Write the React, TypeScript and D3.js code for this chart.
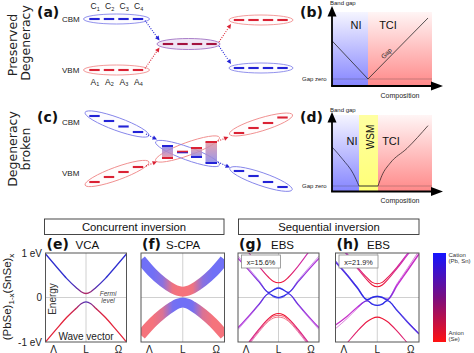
import React from "react";
import * as d3 from "d3";

const SANS = "'Liberation Sans', Arial, Helvetica, sans-serif";
const BOLD = "'DejaVu Sans', Verdana, sans-serif";

// ---------------- data ----------------
const siteIndex = ["1", "2", "3", "4"];

const phasesB = ["NI", "TCI"];
const boundsB = [0, 0.36, 1];
const labelPosB = [0.24, 0.56];
const gapCompB = [0, 0.36, 0.96];
const gapValB = [0.57, 0, 0.91];

const phasesD = ["NI", "WSM", "TCI"];
const boundsD = [0, 0.27, 0.46, 1];
const labelPosD = [0.2, 0.375, 0.59];
const niComp = [0, 0.11, 0.21, 0.27];
const niGap = [0.55, 0.37, 0.18, 0];
const wsmComp = [0.27, 0.46];
const wsmGap = [0, 0];
const tciComp = [0.46, 0.5, 0.58, 0.75, 0.96];
const tciGap = [0, 0.15, 0.32, 0.53, 0.85];

const kGrid = [-1.25, -0.9, -0.6, -0.3, -0.15, 0, 0.15, 0.3, 0.6, 0.9, 1.25];
const kTicks = [-1, 0, 1];
const kTickLabels = ["Λ", "L", "Ω"];
const eTicks = [1, 0, -1];
const eTickLabels = ["1 eV", "0", "-1 eV"];

// (e) VCA
const vcaCB = [0.98, 0.68, 0.43, 0.22, 0.13, 0.09, 0.13, 0.22, 0.43, 0.68, 0.98];
const vcaCBw = [1, 1, 1, 0.8, 0.45, 0.25, 0.45, 0.8, 1, 1, 1];
const vcaVB = [-1.0, -0.7, -0.45, -0.24, -0.14, -0.1, -0.14, -0.24, -0.45, -0.7, -1.0];
const vcaVBw = [0, 0, 0, 0.2, 0.6, 0.85, 0.6, 0.2, 0, 0, 0];
// (f) S-CPA
const cpaCB = [0.85, 0.55, 0.35, 0.2, 0.15, 0.13, 0.15, 0.2, 0.35, 0.55, 0.85];
const cpaCBw = [1, 1, 0.8, 0.05, 0, 0, 0, 0.05, 0.8, 1, 1];
const cpaVB = [-0.85, -0.56, -0.36, -0.2, -0.14, -0.11, -0.14, -0.2, -0.36, -0.56, -0.85];
const cpaVBw = [0, 0, 0.2, 0.95, 1, 1, 1, 0.95, 0.2, 0, 0];
// (g) EBS x=15.6%
const gCB = [1.32, 0.99, 0.7, 0.45, 0.36, 0.33, 0.36, 0.45, 0.7, 0.99, 1.32];
const gCBw = [0.45, 0.4, 0.3, 0.1, 0.05, 0, 0.05, 0.1, 0.3, 0.4, 0.45];
const gVB1 = [-1.33, -0.99, -0.71, -0.47, -0.39, -0.36, -0.39, -0.47, -0.71, -0.99, -1.33];
const gVB2 = [-1.36, -1.02, -0.74, -0.5, -0.42, -0.4, -0.42, -0.5, -0.74, -1.02, -1.36];
const gVB3 = [-1.39, -1.05, -0.77, -0.53, -0.46, -0.44, -0.46, -0.53, -0.77, -1.05, -1.39];
const gVBw = [0.35, 0.3, 0.2, 0.05, 0, 0, 0, 0.05, 0.2, 0.3, 0.35];
const gHatU = [0.88, 0.6, 0.35, 0.11, 0.17, 0.21, 0.17, 0.11, 0.35, 0.6, 0.88];
const gHatU2 = [0.93, 0.64, 0.38, 0.12, 0.18, 0.23, 0.18, 0.12, 0.38, 0.64, 0.93];
const gHatL = [-0.68, -0.4, -0.15, 0.09, 0.03, 0.0, 0.03, 0.09, -0.15, -0.4, -0.68];
const gHatL2 = [-0.72, -0.43, -0.17, 0.08, 0.01, -0.02, 0.01, 0.08, -0.17, -0.43, -0.72];
const gHatw = [0.55, 0.6, 0.75, 0.95, 1, 1, 1, 0.95, 0.75, 0.6, 0.55];
// (h) EBS x=21.9%
const hCB1 = [1.3, 0.98, 0.69, 0.44, 0.34, 0.31, 0.34, 0.44, 0.69, 0.98, 1.3];
const hCB2 = [1.26, 0.95, 0.66, 0.39, 0.28, 0.24, 0.28, 0.39, 0.66, 0.95, 1.26];
const hCBw = [0.5, 0.45, 0.3, 0.1, 0.03, 0, 0.03, 0.1, 0.3, 0.45, 0.5];
const hVB = [-1.32, -1.02, -0.76, -0.54, -0.47, -0.44, -0.47, -0.54, -0.76, -1.02, -1.32];
const hVBw = [0.3, 0.25, 0.15, 0.05, 0, 0, 0, 0.05, 0.15, 0.25, 0.3];
const hHatU = [0.8, 0.5, 0.22, -0.05, 0.0, 0.02, 0.0, -0.05, 0.28, 0.6, 0.98];
const hHatU2 = [0.83, 0.52, 0.24, -0.04, 0.01, 0.03, 0.01, -0.03, 0.32, 0.65, 1.05];
const hHatUw = [0.85, 0.9, 0.95, 1, 1, 1, 1, 0.85, 0.5, 0.45, 0.45];
const hHatL = [-0.62, -0.42, -0.22, -0.07, -0.15, -0.18, -0.15, -0.07, -0.3, -0.55, -0.82];
const hHatL2 = [-0.7, -0.47, -0.25, -0.08, -0.14, -0.17, -0.14, -0.07, -0.28, -0.53, -0.8];
const hHatLw = [0.45, 0.45, 0.5, 0.85, 1, 1, 1, 1, 0.95, 0.9, 0.85];

// ---------------- helpers ----------------
const BLUE = "#2323d6";
const RED = "#da2234";

function DotArrow({ x1, y1, x2, y2, color }: any) {
  const a = Math.atan2(y2 - y1, x2 - x1);
  const L = 4.5, w = 2.2;
  const bx = x2 - L * Math.cos(a), by = y2 - L * Math.sin(a);
  const px = -Math.sin(a) * w, py = Math.cos(a) * w;
  return (
    <g>
      <line x1={x1} y1={y1} x2={bx} y2={by} stroke={color} strokeWidth={1.1} strokeDasharray="1 1.4" />
      <polygon points={`${x2},${y2} ${bx + px},${by + py} ${bx - px},${by - py}`} fill={color} />
    </g>
  );
}

const dashOff = [-22, -7.5, 7, 21.5];
function Dashes({ cx, ys, color, w = 2.1 }: any) {
  return (
    <g>
      {dashOff.map((o, i) => (
        <line key={i} x1={cx + o - 5.2} x2={cx + o + 5.2} y1={ys[i]} y2={ys[i]} stroke={color} strokeWidth={w} />
      ))}
    </g>
  );
}

function Ell({ cx, cy, rx = 33, ry = 5, angle = 0, stroke, fill = "#fdfcff" }: any) {
  return (
    <ellipse cx={cx} cy={cy} rx={rx} ry={ry} transform={`rotate(${angle} ${cx} ${cy})`}
      stroke={stroke} strokeWidth={0.9} fill={fill} />
  );
}

type BandDef = { E: number[]; w: number[]; width: number; opacity?: number };

function BandPanel({ id, x0, width, bands, color, inset, letter, name, nameDx, children }: any) {
  const y0 = 253, y1 = 342;
  const x = d3.scaleLinear().domain([-1.25, 1.25]).range([x0, x0 + width]);
  const y = d3.scaleLinear().domain([-1, 1]).range([y1, y0]);
  const line = d3.line<number>().x((_, i) => x(kGrid[i])).y((d) => y(d)).curve(d3.curveMonotoneX);
  const xa = x(kGrid[0]), xb = x(kGrid[kGrid.length - 1]);
  return (
    <g>
      <defs>
        <clipPath id={`clip-${id}`}>
          <rect x={x0} y={y0} width={width} height={y1 - y0} />
        </clipPath>
        {bands.map((b: BandDef, bi: number) => (
          <linearGradient key={bi} id={`g-${id}-${bi}`} gradientUnits="userSpaceOnUse" x1={xa} x2={xb} y1={0} y2={0}>
            {kGrid.map((k, i) => (
              <stop key={i} offset={(x(k) - xa) / (xb - xa)} stopColor={color(b.w[i])} />
            ))}
          </linearGradient>
        ))}
      </defs>
      <line x1={x(0)} x2={x(0)} y1={y0} y2={y1} stroke="#c4c4c4" strokeWidth={0.8} />
      <line x1={x0} x2={x0 + width} y1={y(0)} y2={y(0)} stroke="#c4c4c4" strokeWidth={0.8} />
      <g clipPath={`url(#clip-${id})`}>
        {bands.map((b: BandDef, bi: number) => (
          <path key={bi} d={line(b.E) || ""} fill="none" stroke={`url(#g-${id}-${bi})`}
            strokeWidth={b.width} strokeOpacity={b.opacity ?? 1} />
        ))}
      </g>
      {children && children(x, y)}
      {inset && (
        <g>
          <rect x={x0 + 3.5} y={255} width={39} height={13} fill="#fff" stroke="#8a8a8a" strokeWidth={0.8} />
          <text x={x0 + 23} y={264.5} fontSize={7.3} textAnchor="middle" fill="#222" fontFamily={SANS}>{inset}</text>
        </g>
      )}
      <rect x={x0} y={y0} width={width} height={y1 - y0} fill="none" stroke="#555" strokeWidth={1} />
      {kTicks.map((k, i) => (
        <text key={i} x={x(k)} y={352.5} fontSize={10} textAnchor="middle" fill="#222" fontFamily={SANS}>
          {kTickLabels[i]}
        </text>
      ))}
      <text x={x0 + 1} y={249} fontSize={14} fontWeight="bold" fontFamily={BOLD} fill="#111">{letter}</text>
      <text x={x0 + nameDx} y={249} fontSize={11.5} fontFamily={SANS} fill="#111">{name}</text>
    </g>
  );
}

export default function App() {
  const xC = d3.scaleLinear().domain([0, 1]).range([332, 432]);
  const yB = d3.scaleLinear().domain([0, 1]).range([79, 12]);
  const yD = d3.scaleLinear().domain([0, 1]).range([186, 115]);
  const lin = (xs: number[], ys: number[], ysc: any, curve: any) =>
    d3.line<number>().x((_, i) => xC(xs[i])).y((d) => ysc(d)).curve(curve)(ys) || "";

  const colE = d3.interpolateRgb("#e3243b", "#3030cf");
  const colF = d3.interpolateRgb("#f5737c", "#7070f6");
  const colGH = d3.scaleLinear<string>().domain([0, 0.5, 1]).range(["#ee1530", "#c232d6", "#2a2ae6"]);

  const regionFill = ["url(#gBlue)", "url(#gRed)"];
  const regionFillD = ["url(#gBlue)", "url(#gYellow)", "url(#gRed)"];

  return (
    <svg width={474} height={353} style={{ position: "absolute", left: 0, top: 0, background: "#fff" }} fontFamily={SANS}>
      <defs>
        <linearGradient id="gBlue" x1="0" x2="0" y1="0" y2="1">
          <stop offset="0" stopColor="#3a3aff" stopOpacity={0.05} />
          <stop offset="1" stopColor="#3a3aff" stopOpacity={0.62} />
        </linearGradient>
        <linearGradient id="gRed" x1="0" x2="0" y1="0" y2="1">
          <stop offset="0" stopColor="#ff3a3a" stopOpacity={0.05} />
          <stop offset="1" stopColor="#ff3a3a" stopOpacity={0.6} />
        </linearGradient>
        <linearGradient id="gYellow" x1="0" x2="0" y1="0" y2="1">
          <stop offset="0" stopColor="#ffff55" stopOpacity={0.55} />
          <stop offset="1" stopColor="#ffff55" stopOpacity={0.8} />
        </linearGradient>
        <linearGradient id="gBR" x1="0" x2="0" y1="0" y2="1">
          <stop offset="0" stopColor="#8080ea" />
          <stop offset="1" stopColor="#e8909c" />
        </linearGradient>
        <linearGradient id="gRB" x1="0" x2="0" y1="0" y2="1">
          <stop offset="0" stopColor="#e2949e" />
          <stop offset="1" stopColor="#8585e8" />
        </linearGradient>
        <linearGradient id="gBar" x1="0" x2="0" y1="0" y2="1">
          <stop offset="0" stopColor="#1414ff" />
          <stop offset="0.5" stopColor="#7a0e80" />
          <stop offset="1" stopColor="#ff1212" />
        </linearGradient>
      </defs>

      {/* ---------- (a) ---------- */}
      <text transform="translate(17,45) rotate(-90)" textAnchor="middle" fontSize={12.5} fontFamily={BOLD} fill="#222">Preserved</text>
      <text transform="translate(30,43) rotate(-90)" textAnchor="middle" fontSize={12.5} fontFamily={BOLD} fill="#222">Degeneracy</text>
      <text x={37} y={16.5} fontSize={14} fontWeight="bold" fontFamily={BOLD} fill="#111">(a)</text>
      <text x={62} y={22} fontSize={8} fill="#222">CBM</text>
      <text x={62} y={73} fontSize={8} fill="#222">VBM</text>
      {siteIndex.map((s, i) => (
        <text key={"c" + i} x={116.5 + dashOff[i] - 4} y={9} fontSize={8.5} fill="#222">C<tspan fontSize={5.5} dy={1.5}>{s}</tspan></text>
      ))}
      {siteIndex.map((s, i) => (
        <text key={"a" + i} x={116.5 + dashOff[i] - 4} y={84.5} fontSize={8.5} fill="#222">A<tspan fontSize={5.5} dy={1.5}>{s}</tspan></text>
      ))}
      <Ell cx={116.5} cy={19} stroke="#8686ea" />
      <Dashes cx={116.5} ys={[19, 19, 19, 19]} color={BLUE} />
      <Ell cx={116.5} cy={70} stroke="#f09090" fill="#fffcfc" />
      <Dashes cx={116.5} ys={[70, 70, 70, 70]} color={RED} />
      <Ell cx={188.5} cy={44} rx={31.5} ry={5.5} stroke="#a274c4" fill="#efe6f4" />
      <Dashes cx={190} ys={[44, 44, 44, 44]} color="#a3123e" />
      <Ell cx={261} cy={20} rx={32} stroke="#f09090" fill="#fffcfc" />
      <Dashes cx={261} ys={[20, 20, 20, 20]} color={RED} />
      <Ell cx={261} cy={68} rx={32} stroke="#8686ea" />
      <Dashes cx={261} ys={[68, 68, 68, 68]} color={BLUE} />
      <DotArrow x1={145} y1={20.5} x2={159.5} y2={40.5} color={BLUE} />
      <DotArrow x1={145} y1={68.5} x2={159.5} y2={47.5} color={RED} />
      <DotArrow x1={219} y1={42} x2={231} y2={24} color={RED} />
      <DotArrow x1={219} y1={46} x2={231} y2={64} color={BLUE} />

      {/* ---------- (c) ---------- */}
      <text transform="translate(17,149) rotate(-90)" textAnchor="middle" fontSize={12.5} fontFamily={BOLD} fill="#222">Degeneracy</text>
      <text transform="translate(30,149) rotate(-90)" textAnchor="middle" fontSize={12.5} fontFamily={BOLD} fill="#222">broken</text>
      <text x={37} y={121.5} fontSize={14} fontWeight="bold" fontFamily={BOLD} fill="#111">(c)</text>
      <text x={62} y={125} fontSize={8} fill="#222">CBM</text>
      <text x={62} y={176} fontSize={8} fill="#222">VBM</text>
      <Ell cx={117} cy={124} rx={34} ry={6.5} angle={20} stroke="#8686ea" />
      <Dashes cx={116.5} ys={[116, 121, 126.5, 132]} color={BLUE} />
      <Ell cx={117} cy={173.5} rx={34} ry={6.5} angle={-20} stroke="#f09090" fill="#fffcfc" />
      <Dashes cx={116.5} ys={[182, 177, 172, 167]} color={RED} />
      <Ell cx={187.5} cy={149} rx={34} ry={6.5} angle={-20} stroke="#f09090" fill="none" />
      <Ell cx={187.5} cy={153.5} rx={34} ry={6.5} angle={20} stroke="#8686ea" fill="none" />
      <rect x={162} y={146} width={11} height={12} fill="url(#gBR)" opacity={0.85} />
      <rect x={191} y={148} width={11} height={9} fill="url(#gRB)" opacity={0.85} />
      <rect x={205.5} y={142} width={11.5} height={21} fill="url(#gRB)" opacity={0.85} />
      <line x1={162} x2={173} y1={146} y2={146} stroke={BLUE} strokeWidth={2} />
      <line x1={162} x2={173} y1={158} y2={158} stroke={RED} strokeWidth={2} />
      <line x1={177} x2={188} y1={152.6} y2={152.6} stroke={BLUE} strokeWidth={1.4} />
      <line x1={177} x2={188} y1={151.5} y2={151.5} stroke={RED} strokeWidth={1.6} />
      <line x1={191} x2={202} y1={148} y2={148} stroke={RED} strokeWidth={2} />
      <line x1={191} x2={202} y1={157} y2={157} stroke={BLUE} strokeWidth={2} />
      <line x1={205.5} x2={217} y1={142} y2={142} stroke={RED} strokeWidth={2} />
      <line x1={205.5} x2={217} y1={163} y2={163} stroke={BLUE} strokeWidth={2} />
      <Ell cx={261} cy={124.5} rx={33} ry={6.5} angle={-17} stroke="#f09090" fill="#fffcfc" />
      <Dashes cx={261} ys={[133, 128, 123, 117.5]} color={RED} />
      <Ell cx={261} cy={179} rx={33} ry={6.5} angle={19} stroke="#8686ea" />
      <Dashes cx={261} ys={[171, 176, 182, 187]} color={BLUE} />
      <DotArrow x1={146} y1={134} x2={157} y2={139.5} color={BLUE} />
      <DotArrow x1={146} y1={166} x2={157} y2={161.5} color={RED} />
      <DotArrow x1={218} y1={162} x2={230} y2={167.5} color={BLUE} />
      <DotArrow x1={218} y1={141} x2={228.5} y2={137} color={RED} />

      {/* ---------- (b) ---------- */}
      <text x={300} y={17} fontSize={14} fontWeight="bold" fontFamily={BOLD} fill="#111">(b)</text>
      {phasesB.map((p, i) => (
        <rect key={p} x={xC(boundsB[i])} y={yB(1)} width={xC(boundsB[i + 1]) - xC(boundsB[i])} height={86 - yB(1)} fill={regionFill[i]} />
      ))}
      {phasesB.map((p, i) => (
        <text key={"l" + p} x={xC(labelPosB[i])} y={28.5} fontSize={11} textAnchor="middle" fill="#111">{p}</text>
      ))}
      <line x1={332} x2={432} y1={yB(0)} y2={yB(0)} stroke="#333" strokeOpacity={0.35} strokeWidth={0.8} />
      <path d={lin(gapCompB, gapValB, yB, d3.curveLinear)} fill="none" stroke="#2a2a2a" strokeWidth={0.8} />
      <text transform="translate(388,55) rotate(-45)" fontSize={6.5} textAnchor="middle" fill="#222">Gap</text>
      <text x={302} y={81} fontSize={6} fill="#222">Gap zero</text>
      <text x={330} y={5} fontSize={6} fill="#222">Band gap</text>
      <text x={400} y={97.5} fontSize={7} textAnchor="middle" fill="#222">Composition</text>
      <line x1={332} y1={86} x2={332} y2={15} stroke="#000" strokeWidth={1.8} />
      <polygon points="332,6 327.5,16.5 336.5,16.5" fill="#000" />
      <line x1={331.1} y1={86} x2={432} y2={86} stroke="#000" strokeWidth={1.8} />
      <polygon points="443,86 431,81.5 431,90.5" fill="#000" />

      {/* ---------- (d) ---------- */}
      <text x={300} y={122} fontSize={14} fontWeight="bold" fontFamily={BOLD} fill="#111">(d)</text>
      {phasesD.map((p, i) => (
        <rect key={p} x={xC(boundsD[i])} y={yD(1)} width={xC(boundsD[i + 1]) - xC(boundsD[i])} height={191.5 - yD(1)} fill={regionFillD[i]} />
      ))}
      {phasesD.map((p, i) =>
        p === "WSM" ? (
          <text key={"l" + p} transform={`translate(${xC(labelPosD[i]) + 4},137) rotate(-90)`} fontSize={10} textAnchor="middle" fill="#111">{p}</text>
        ) : (
          <text key={"l" + p} x={xC(labelPosD[i])} y={145} fontSize={11} textAnchor="middle" fill="#111">{p}</text>
        )
      )}
      <line x1={332} x2={432} y1={yD(0)} y2={yD(0)} stroke="#333" strokeOpacity={0.35} strokeWidth={0.8} />
      <path d={lin(niComp, niGap, yD, d3.curveMonotoneX)} fill="none" stroke="#2a2a4a" strokeWidth={0.8} />
      <path d={lin(wsmComp, wsmGap, yD, d3.curveLinear)} fill="none" stroke="#2a2a2a" strokeWidth={0.8} />
      <path d={lin(tciComp, tciGap, yD, d3.curveMonotoneX)} fill="none" stroke="#3a2a2a" strokeWidth={0.8} />
      <text x={302} y={187.5} fontSize={6} fill="#222">Gap zero</text>
      <text x={330} y={112} fontSize={6} fill="#222">Band gap</text>
      <text x={400} y={203} fontSize={7} textAnchor="middle" fill="#222">Composition</text>
      <line x1={332} y1={191.5} x2={332} y2={121} stroke="#000" strokeWidth={1.8} />
      <polygon points="332,112 327.5,122.5 336.5,122.5" fill="#000" />
      <line x1={331.1} y1={191.5} x2={432} y2={191.5} stroke="#000" strokeWidth={1.8} />
      <polygon points="443,191.5 431,187 431,196" fill="#000" />

      {/* ---------- bottom header boxes ---------- */}
      <rect x={44.5} y={219} width={179.5} height={15.5} fill="#fff" stroke="#333" strokeWidth={0.9} />
      <text x={134} y={231} fontSize={11.3} textAnchor="middle" fill="#111">Concurrent inversion</text>
      <rect x={238.5} y={219} width={180.5} height={15.5} fill="#fff" stroke="#333" strokeWidth={0.9} />
      <text x={329} y={231} fontSize={11.3} textAnchor="middle" fill="#111">Sequential inversion</text>

      {/* y axis of bottom row */}
      <text transform="translate(11,297) rotate(-90)" textAnchor="middle" fontSize={11.5} fill="#222">
        (PbSe)<tspan fontSize={8} dy={3}>1-x</tspan><tspan dy={-3}>(SnSe)</tspan><tspan fontSize={8} dy={3}>x</tspan>
      </text>
      {eTicks.map((e, i) => (
        <text key={i} x={42} y={d3.scaleLinear().domain([-1, 1]).range([342, 253])(e) + 3.8} fontSize={10} textAnchor="end" fill="#222">
          {eTickLabels[i]}
        </text>
      ))}

      <BandPanel id="e" x0={45.5} width={81} letter="(e)" name="VCA" nameDx={30} color={colE}
        bands={[
          { E: vcaCB, w: vcaCBw, width: 1.3 },
          { E: vcaVB, w: vcaVBw, width: 1.3 },
        ]}>
        {(x: any, y: any) => (
          <g>
            <text transform={`translate(${x(-1) + 2.5},299) rotate(-90)`} fontSize={10} textAnchor="middle" fill="#333">Energy</text>
            <text x={x(0.68)} y={295.5} fontSize={6.5} fontStyle="italic" textAnchor="middle" fill="#444">Fermi</text>
            <text x={x(0.68)} y={303} fontSize={6.5} fontStyle="italic" textAnchor="middle" fill="#444">level</text>
            <text x={x(0)} y={340} fontSize={10} textAnchor="middle" fill="#222">Wave vector</text>
          </g>
        )}
      </BandPanel>

      <BandPanel id="f" x0={141} width={83.5} letter="(f)" name="S-CPA" nameDx={25} color={colF}
        bands={[
          { E: cpaCB, w: cpaCBw, width: 10 },
          { E: cpaVB, w: cpaVBw, width: 10 },
        ]} />

      <BandPanel id="g" x0={238} width={81} letter="(g)" name="EBS" nameDx={33} color={colGH} inset="x=15.6%"
        bands={[
          { E: gVB3, w: gVBw, width: 1, opacity: 0.6 },
          { E: gVB2, w: gVBw, width: 1, opacity: 0.75 },
          { E: gVB1, w: gVBw, width: 1.1 },
          { E: gCB, w: gCBw, width: 1.1 },
          { E: gHatU2, w: gHatw, width: 1, opacity: 0.55 },
          { E: gHatL2, w: gHatw, width: 1, opacity: 0.55 },
          { E: gHatU, w: gHatw, width: 1.2 },
          { E: gHatL, w: gHatw, width: 1.2 },
        ]} />

      <BandPanel id="h" x0={335.5} width={83.5} letter="(h)" name="EBS" nameDx={31.5} color={colGH} inset="x=21.9%"
        bands={[
          { E: hVB, w: hVBw, width: 1.1 },
          { E: hCB2, w: hCBw, width: 1.1 },
          { E: hCB1, w: hCBw, width: 1.1 },
          { E: hHatU2, w: hHatUw, width: 1, opacity: 0.6 },
          { E: hHatL2, w: hHatLw, width: 1, opacity: 0.6 },
          { E: hHatU, w: hHatUw, width: 1.5 },
          { E: hHatL, w: hHatLw, width: 1.2 },
        ]} />

      {/* colour bar */}
      <rect x={433} y={253} width={13} height={89} fill="url(#gBar)" />
      <text x={448.5} y={256.5} fontSize={6} fill="#333">Cation</text>
      <text x={448.5} y={262.5} fontSize={6} fill="#333">(Pb, Sn)</text>
      <text x={448.5} y={334.5} fontSize={6} fill="#333">Anion</text>
      <text x={448.5} y={340.5} fontSize={6} fill="#333">(Se)</text>
    </svg>
  );
}
